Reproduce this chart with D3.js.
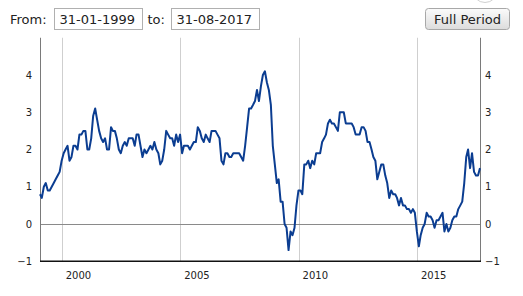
<!DOCTYPE html>
<html>
<head>
<meta charset="utf-8">
<script src="https://cdn.jsdelivr.net/npm/d3@7"></script>
<style>
  html, body { margin: 0; padding: 0; background: #ffffff; }
  svg { display: block; }
</style>
</head>
<body>
<svg id="chart" width="523" height="296"></svg>
<script>
// ---- Data: euro area HICP annual rate of change (%), monthly, Jan 1999 – Aug 2017 ----
const startMonth = "1999-01";
const v1999 = [0.8,0.7,1.0,1.1,0.9,0.9,1.0,1.1,1.2,1.3,1.4,1.7];
const v2000 = [1.9,2.0,2.1,1.7,1.8,2.1,2.1,2.0,2.4,2.4,2.5,2.5];
const v2001 = [2.0,2.0,2.3,2.9,3.1,2.8,2.5,2.3,2.2,2.3,2.0,2.0];
const v2002 = [2.6,2.5,2.5,2.3,2.0,1.9,2.1,2.2,2.1,2.3,2.3,2.3];
const v2003 = [2.1,2.4,2.4,2.1,1.8,2.0,1.9,2.0,2.1,2.0,2.2,2.0];
const v2004 = [1.9,1.6,1.7,2.0,2.5,2.4,2.3,2.3,2.1,2.4,2.2,2.4];
const v2005 = [1.9,2.1,2.1,2.1,2.0,2.1,2.2,2.2,2.6,2.5,2.3,2.2];
const v2006 = [2.4,2.3,2.2,2.5,2.5,2.5,2.4,2.3,1.7,1.6,1.9,1.9];
const v2007 = [1.8,1.8,1.9,1.9,1.9,1.9,1.8,1.7,2.1,2.6,3.1,3.1];
const v2008 = [3.2,3.3,3.6,3.3,3.7,4.0,4.1,3.8,3.6,3.2,2.1,1.6];
const v2009 = [1.1,1.2,0.6,0.6,0.0,-0.1,-0.7,-0.2,-0.3,-0.1,0.5,0.9];
const v2010 = [0.9,0.8,1.6,1.6,1.7,1.5,1.7,1.6,1.9,1.9,1.9,2.2];
const v2011 = [2.3,2.4,2.7,2.8,2.7,2.7,2.6,2.5,3.0,3.0,3.0,2.7];
const v2012 = [2.7,2.7,2.7,2.6,2.4,2.4,2.4,2.6,2.6,2.5,2.2,2.2];
const v2013 = [2.0,1.8,1.7,1.2,1.4,1.6,1.6,1.3,1.1,0.7,0.9,0.8];
const v2014 = [0.8,0.7,0.5,0.7,0.5,0.5,0.4,0.4,0.3,0.4,0.3,-0.2];
const v2015 = [-0.6,-0.3,-0.1,0.0,0.3,0.2,0.2,0.1,-0.1,0.1,0.1,0.2];
const v2016 = [0.3,-0.2,0.0,-0.2,-0.1,0.1,0.2,0.2,0.4,0.5,0.6,1.1];
const v2017 = [1.8,2.0,1.5,1.9,1.4,1.3,1.3,1.5];

const yTicks = [-1, 0, 1, 2, 3, 4];
const xTickYears = [2000, 2005, 2010, 2015];
const fromLabel = "From:";
const toLabel = "to:";
const fromDate = "31-01-1999";
const toDate = "31-08-2017";
const buttonLabel = "Full Period";

// ---- Build series ----
const values = [].concat(v1999, v2000, v2001, v2002, v2003, v2004, v2005, v2006,
  v2007, v2008, v2009, v2010, v2011, v2012, v2013, v2014, v2015, v2016, v2017);
const parseMonth = d3.timeParse("%Y-%m");
const first = parseMonth(startMonth);
// each observation dated at the last day of its month
const series = values.map((v, i) => ({
  date: d3.timeDay.offset(d3.timeMonth.offset(first, i + 1), -1),
  value: v
}));

// ---- Layout ----
const svg = d3.select("#chart");
const font = "'DejaVu Sans', Verdana, sans-serif";
const plot = { left: 40, right: 480, top: 37.75, bottom: 261.25 };

const x = d3.scaleTime()
  .domain([series[0].date, series[series.length - 1].date])
  .range([plot.left, plot.right]);
const y = d3.scaleLinear()
  .domain([-1, 5])
  .range([plot.bottom, plot.top]);

// ---- Top controls ----
const ctl = svg.append("g").attr("font-family", font).attr("font-size", 13).attr("fill", "#222");
ctl.append("text").attr("x", 10).attr("y", 24).text(fromLabel);
ctl.append("rect").attr("x", 54.5).attr("y", 8.5).attr("width", 88).attr("height", 21)
  .attr("fill", "#fff").attr("stroke", "#b0b0b0");
ctl.append("text").attr("x", 59.5).attr("y", 24).text(fromDate);
ctl.append("text").attr("x", 147.5).attr("y", 24).text(toLabel);
ctl.append("rect").attr("x", 171.5).attr("y", 8.5).attr("width", 88).attr("height", 21)
  .attr("fill", "#fff").attr("stroke", "#b0b0b0");
ctl.append("text").attr("x", 176.5).attr("y", 24).text(toDate);

const defs = svg.append("defs");
const grad = defs.append("linearGradient").attr("id", "btnGrad")
  .attr("x1", 0).attr("y1", 0).attr("x2", 0).attr("y2", 1);
grad.append("stop").attr("offset", "0%").attr("stop-color", "#fbfbfb");
grad.append("stop").attr("offset", "100%").attr("stop-color", "#dcdcdc");
ctl.append("rect").attr("x", 425.5).attr("y", 8.5).attr("width", 84).attr("height", 21)
  .attr("rx", 3).attr("fill", "url(#btnGrad)").attr("stroke", "#a8a8a8");
ctl.append("text").attr("x", 467.5).attr("y", 24).attr("text-anchor", "middle").text(buttonLabel);

// partial round element peeking at top right
svg.append("circle").attr("cx", 485).attr("cy", -10).attr("r", 12.5)
  .attr("fill", "#fff").attr("stroke", "#d0d0d0");

// ---- Grid lines (yearly) ----
const tickDates = xTickYears.map(yr => new Date(yr, 0, 1));
svg.append("g").selectAll("line").data(tickDates).join("line")
  .attr("x1", d => Math.round(x(d)) + 0.5).attr("x2", d => Math.round(x(d)) + 0.5)
  .attr("y1", plot.top).attr("y2", plot.bottom)
  .attr("stroke", "#cfcfcf").attr("stroke-width", 1);

// zero line
svg.append("line")
  .attr("x1", plot.left).attr("x2", plot.right)
  .attr("y1", Math.round(y(0)) + 0.5).attr("y2", Math.round(y(0)) + 0.5)
  .attr("stroke", "#8a8a8a").attr("stroke-width", 1);

// ---- Axes ----
const xAxis = d3.axisBottom(x).tickValues(tickDates).tickSize(0).tickFormat(d3.timeFormat("%Y"));
const gx = svg.append("g").attr("transform", `translate(0,${plot.bottom})`).call(xAxis);
gx.select(".domain").remove();
gx.selectAll("text").attr("font-family", font).attr("font-size", 10).attr("fill", "#222")
  .attr("text-anchor", "start").attr("dx", 3.5).attr("dy", 0).attr("y", 18);

const yAxisL = d3.axisLeft(y).tickValues(yTicks).tickSize(0).tickPadding(8).tickFormat(d3.format("d"));
const gyl = svg.append("g").attr("transform", `translate(${plot.left},0)`).call(yAxisL);
gyl.select(".domain").remove();
gyl.selectAll("text").attr("font-family", font).attr("font-size", 10).attr("fill", "#222");

const yAxisR = d3.axisRight(y).tickValues(yTicks).tickSize(0).tickPadding(5).tickFormat(d3.format("d"));
const gyr = svg.append("g").attr("transform", `translate(${plot.right},0)`).call(yAxisR);
gyr.select(".domain").remove();
gyr.selectAll("text").attr("font-family", font).attr("font-size", 10).attr("fill", "#222");

// axis lines
svg.append("line").attr("x1", plot.left + 0.5).attr("x2", plot.left + 0.5)
  .attr("y1", plot.top).attr("y2", plot.bottom).attr("stroke", "#7a7a7a");
svg.append("line").attr("x1", plot.right + 0.5).attr("x2", plot.right + 0.5)
  .attr("y1", plot.top).attr("y2", plot.bottom).attr("stroke", "#7a7a7a");
svg.append("line").attr("x1", plot.left).attr("x2", plot.right + 1)
  .attr("y1", plot.bottom).attr("y2", plot.bottom).attr("stroke", "#111").attr("stroke-width", 1.5);

// ---- Series line ----
const line = d3.line().x(d => x(d.date)).y(d => y(d.value));
svg.append("path").datum(series)
  .attr("d", line)
  .attr("fill", "none")
  .attr("stroke", "#0b3d91")
  .attr("stroke-width", 2)
  .attr("stroke-linejoin", "round");
</script>
</body>
</html>
